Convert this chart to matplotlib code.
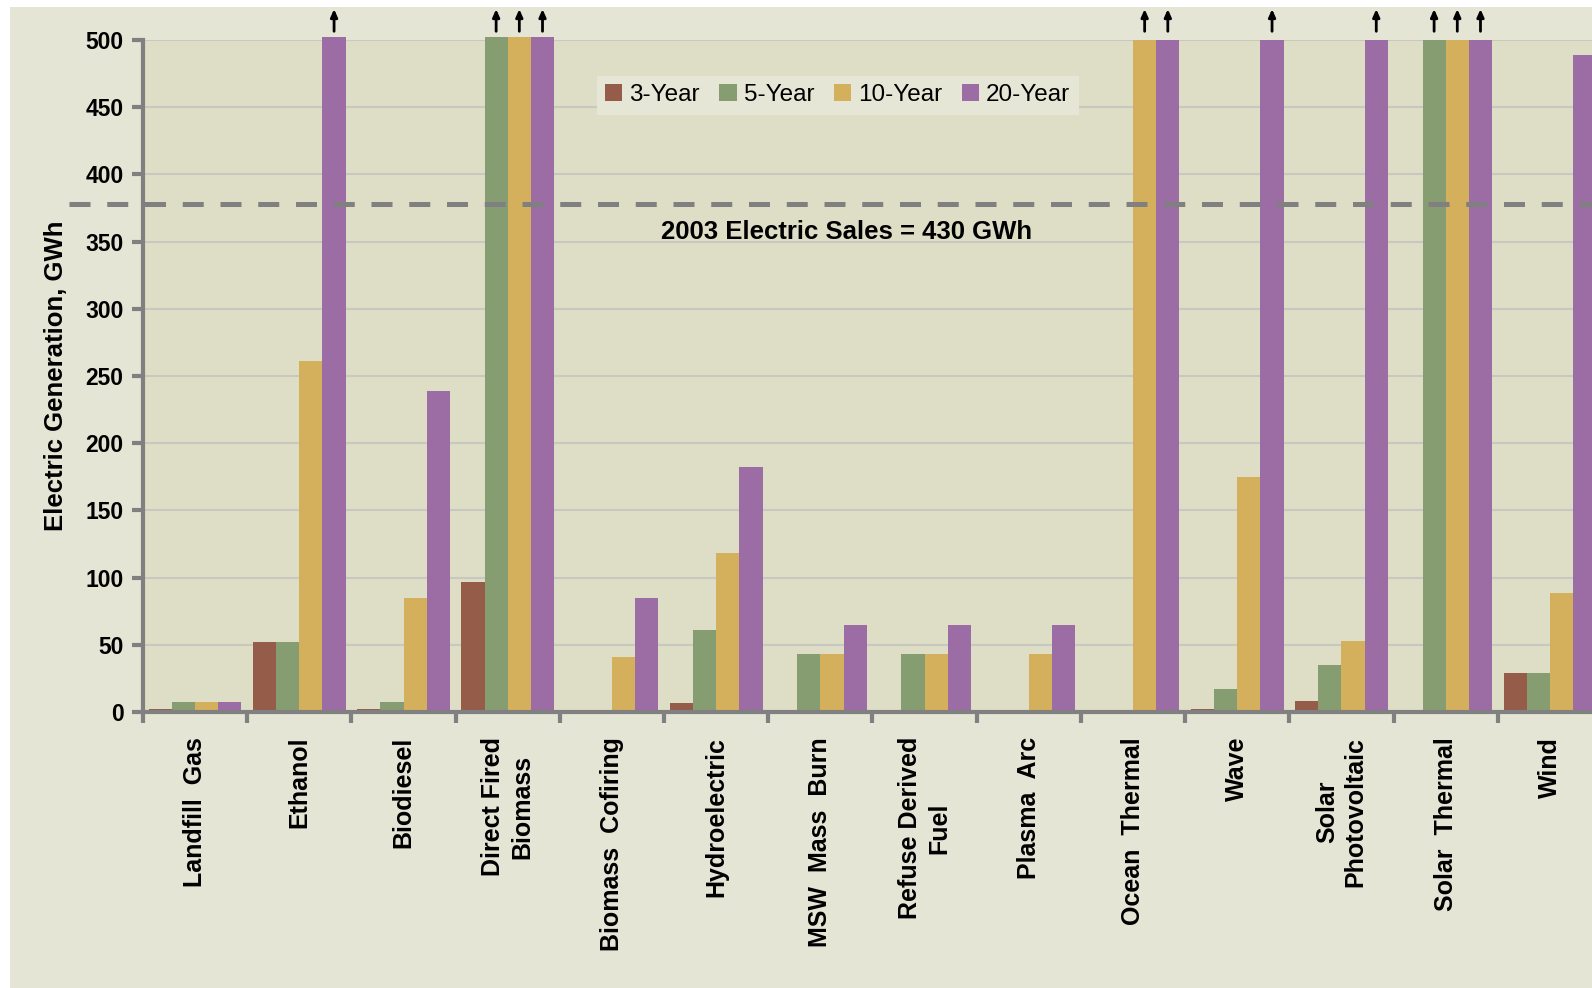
import numpy as np
import matplotlib.pyplot as plt
from matplotlib.patches import Rectangle
import matplotlib.transforms as mtransforms

plt.rcParams['font.family'] = ['Liberation Sans', 'DejaVu Sans']

categories = ['Landfill  Gas', 'Ethanol', 'Biodiesel', 'Direct Fired\nBiomass',
              'Biomass  Cofiring', 'Hydroelectric', 'MSW  Mass  Burn',
              'Refuse Derived\nFuel', 'Plasma  Arc', 'Ocean  Thermal', 'Wave',
              'Solar\nPhotovoltaic', 'Solar  Thermal', 'Wind']
series = ['3-Year', '5-Year', '10-Year', '20-Year']

# values above 500 are off the scale (flagged with arrows)
year3 = [2, 52, 2, 97, 0, 7, 0, 0, 0, 0, 2, 8, 0, 29]
year5 = [7.5, 52, 7.5, 502, 0, 61, 43, 43, 0, 0, 17, 35, 500, 29]
year10 = [7.5, 261, 85, 502, 41, 118, 43, 43, 43, 500, 175, 53, 500, 88.5]
year20 = [7.5, 502, 239, 502, 85, 182, 65, 65, 65, 500, 500, 500, 500, 489]
off_scale = [
    [False] * 14,
    [False, False, False, True, False, False, False, False, False, False, False, False, True, False],
    [False, False, False, True, False, False, False, False, False, True, False, False, True, False],
    [False, True, False, True, False, False, False, False, False, True, True, True, True, False],
]
sales_line = 378
sales_label = '2003 Electric Sales = 430 GWh'

colors = ['#955C4A', '#869D71', '#D5B05C', '#9C6CA4']

fig = plt.figure(figsize=(15.92, 9.88), dpi=100, facecolor='white')
bg = Rectangle((10 / 1592, 0), 1 - 10 / 1592, 1 - 7 / 988,
               transform=fig.transFigure, facecolor='#E5E5D5',
               edgecolor='none', zorder=-10)
fig.add_artist(bg)

ax = fig.add_axes([0.0898, 0.2794, 0.9165, 0.6801])
ax.set_facecolor('#DEDEC7')

x = np.arange(len(categories))
w = 0.2225
data = [year3, year5, year10, year20]
trans = mtransforms.blended_transform_factory(ax.transData, ax.transAxes)
for i, (vals, c, name) in enumerate(zip(data, colors, series)):
    pos = x + (i - 1.5) * w
    ax.bar(pos, vals, w, color=c, label=name, zorder=2, clip_on=False)
    for p, flag in zip(pos, off_scale[i]):
        if flag:
            ax.annotate('', xy=(p, 1.046), xytext=(p, 1.013), xycoords=trans,
                        textcoords=trans,
                        arrowprops=dict(arrowstyle='-|>,head_length=0.45,head_width=0.2',
                                        color='black', lw=2, shrinkA=0, shrinkB=0))

ax.axhline(sales_line, color='#808080', lw=3.6, ls=(0, (4.2, 3.35)), zorder=3,
           xmin=-0.0507, clip_on=False)
ax.text(6.25, 357, sales_label, ha='center', va='center', fontsize=18.5,
        fontweight='bold', zorder=4)

ax.set_ylim(0, 500)
ax.set_xlim(-0.5, len(categories) - 0.5)
ax.set_yticks(np.arange(0, 501, 50))
ax.yaxis.grid(True, color='#C8C8C0', lw=1.5, zorder=0)
ax.set_axisbelow(True)
ax.tick_params(axis='y', labelsize=16.5, length=8, width=3, color='#808080', pad=6)
for lab in ax.get_yticklabels():
    lab.set_fontweight('bold')

ax.set_xticks(np.arange(-0.5, len(categories), 1))
ax.set_xticklabels([])
ax.tick_params(axis='x', length=8, width=3, color='#808080')
ax.set_xticks(x, minor=True)
ax.set_xticklabels(categories, minor=True, rotation=90, fontsize=18,
                   fontweight='bold', va='top', ha='center', linespacing=1.25)
ax.tick_params(axis='x', which='minor', length=0, pad=18)

for s in ['top', 'right']:
    ax.spines[s].set_visible(False)
for s in ['left', 'bottom']:
    ax.spines[s].set_color('#808080')
    ax.spines[s].set_linewidth(3)

ax.set_ylabel('Electric Generation, GWh', fontsize=18.5, fontweight='bold', labelpad=12)

leg = ax.legend(loc='upper left', bbox_to_anchor=(0.311, 0.947), ncol=4,
                fontsize=17.5, frameon=True, fancybox=False, handlelength=0.7,
                handleheight=0.7, handletextpad=0.3, columnspacing=0.8,
                borderpad=0.35, borderaxespad=0)
leg.get_frame().set_facecolor('#E6E6D6')
leg.get_frame().set_edgecolor('none')
leg.get_frame().set_alpha(1)
leg.set_zorder(5)

fig.savefig('out.png', dpi=100, facecolor=fig.get_facecolor())
